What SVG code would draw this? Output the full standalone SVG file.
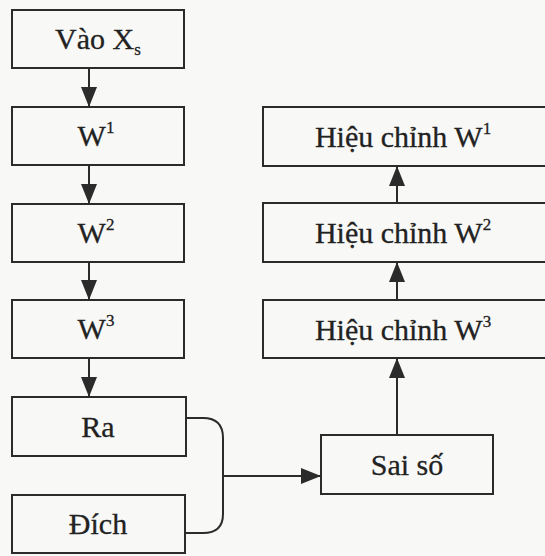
<svg xmlns="http://www.w3.org/2000/svg" width="545" height="556" viewBox="0 0 545 556">
  <style>
    .box { fill: none; stroke: #2b2b2b; stroke-width: 2; }
    .lbl { font-family: "Liberation Serif", "Times New Roman", serif; font-size: 30px; fill: #222; stroke: #222; stroke-width: 0.3; text-anchor: middle; }
    .sup { font-size: 17px; }
    .wire { fill: none; stroke: #2b2b2b; stroke-width: 2; }
  </style>
  <defs>
    <marker id="head" viewBox="0 0 20 16" refX="20" refY="8" markerWidth="20" markerHeight="16" markerUnits="userSpaceOnUse" orient="auto">
      <path d="M0,0 L20,8 L0,16 Z" fill="#2b2b2b"/>
    </marker>
  </defs>
  <rect width="545" height="556" fill="#f8f8f6"/>

  <!-- forward pass column -->
  <g id="vao">
    <rect class="box" x="12" y="10" width="172" height="58"/>
    <text class="lbl" x="98" y="49">Vào X<tspan class="sup" dy="6">s</tspan></text>
  </g>
  <g id="w1">
    <rect class="box" x="12" y="107" width="172" height="58"/>
    <text class="lbl" x="96" y="146">W<tspan class="sup" dy="-13">1</tspan></text>
  </g>
  <g id="w2">
    <rect class="box" x="12" y="204" width="172" height="58"/>
    <text class="lbl" x="96" y="243">W<tspan class="sup" dy="-13">2</tspan></text>
  </g>
  <g id="w3">
    <rect class="box" x="12" y="300" width="172" height="58"/>
    <text class="lbl" x="96" y="339">W<tspan class="sup" dy="-13">3</tspan></text>
  </g>
  <g id="ra">
    <rect class="box" x="12" y="397" width="174" height="59"/>
    <text class="lbl" x="98" y="437">Ra</text>
  </g>
  <g id="dich">
    <rect class="box" x="12" y="495" width="173" height="58"/>
    <text class="lbl" x="98" y="534">Đích</text>
  </g>

  <!-- correction column -->
  <g id="hc1">
    <rect class="box" x="263" y="107" width="290" height="59"/>
    <text class="lbl" x="403" y="147">Hiệu chỉnh W<tspan class="sup" dy="-13">1</tspan></text>
  </g>
  <g id="hc2">
    <rect class="box" x="263" y="203" width="290" height="59"/>
    <text class="lbl" x="403" y="243">Hiệu chỉnh W<tspan class="sup" dy="-13">2</tspan></text>
  </g>
  <g id="hc3">
    <rect class="box" x="263" y="300" width="290" height="58"/>
    <text class="lbl" x="403" y="340">Hiệu chỉnh W<tspan class="sup" dy="-13">3</tspan></text>
  </g>
  <g id="saiso">
    <rect class="box" x="321" y="435" width="172" height="59"/>
    <text class="lbl" x="407" y="475">Sai số</text>
  </g>

  <g id="connectors">
    <line class="wire" x1="89" y1="68" x2="89" y2="107" marker-end="url(#head)"/>
    <line class="wire" x1="89" y1="165" x2="89" y2="204" marker-end="url(#head)"/>
    <line class="wire" x1="89" y1="262" x2="89" y2="300" marker-end="url(#head)"/>
    <line class="wire" x1="89" y1="358" x2="89" y2="397" marker-end="url(#head)"/>
    <path class="wire" d="M186,418 L203,418 Q223,418 223,438 L223,514 Q223,533 203,533 L185,533"/>
    <line class="wire" x1="223" y1="476" x2="321" y2="476" marker-end="url(#head)"/>
    <line class="wire" x1="397" y1="435" x2="397" y2="358" marker-end="url(#head)"/>
    <line class="wire" x1="397" y1="300" x2="397" y2="262" marker-end="url(#head)"/>
    <line class="wire" x1="397" y1="203" x2="397" y2="166" marker-end="url(#head)"/>
  </g>
</svg>
